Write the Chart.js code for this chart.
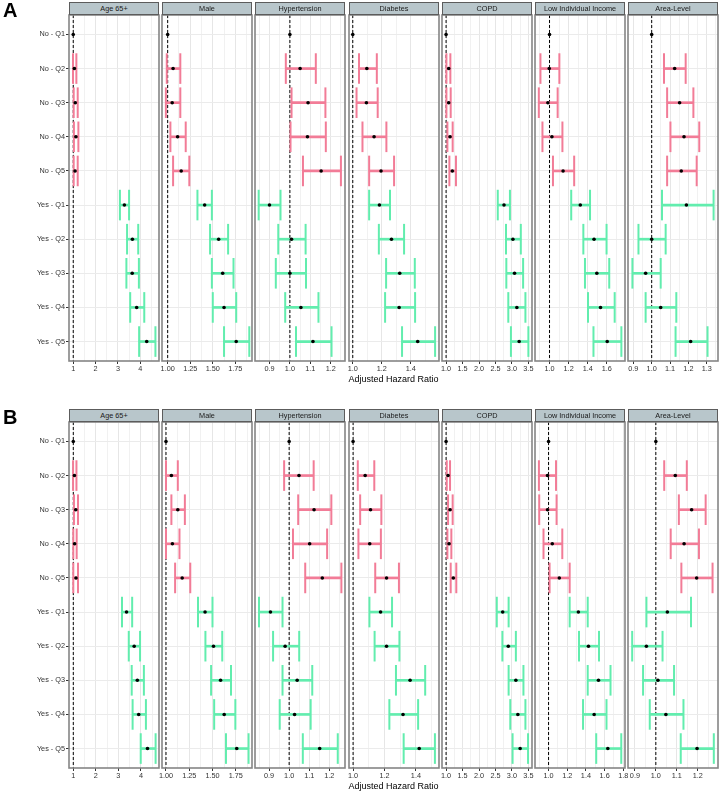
<!DOCTYPE html>
<html><head><meta charset="utf-8">
<script src="https://cdn.jsdelivr.net/npm/chart.js@4.4.1/dist/chart.umd.min.js"></script>
<style>
body{margin:0;background:#fff;width:720px;height:792px;position:relative;overflow:hidden;font-family:"Liberation Sans",Arial,Helvetica,sans-serif;}
canvas{position:absolute;}
.strip{position:absolute;box-sizing:border-box;height:13px;background:#B8C6CB;border:1px solid #5c5c5c;font-size:7.3px;line-height:11px;text-align:center;color:#1a1a1a;z-index:2;white-space:nowrap;}
.tag{position:absolute;font-weight:bold;font-size:20px;line-height:20px;color:#000;}
.xtitle{position:absolute;left:69px;width:649px;text-align:center;font-size:9px;line-height:10px;color:#000;}
</style></head><body>
<script>
// ---------- categories ----------
const rows = ['No - Q1','No - Q2','No - Q3','No - Q4','No - Q5','Yes - Q1','Yes - Q2','Yes - Q3','Yes - Q4','Yes - Q5'];
const facetNames = ['Age 65+','Male','Hypertension','Diabetes','COPD','Low Individual Income','Area-Level'];
const panelTags = ['A','B'];
const axisTitle = 'Adjusted Hazard Ratio';
const REF_VALUE = 1;

// ---------- Panel A values ----------
const A_age_est = [1, 1.05, 1.09, 1.12, 1.08, 3.29, 3.65, 3.64, 3.84, 4.29];
const A_age_lo  = [null, 0.99, 1.02, 1.03, 1.02, 3.09, 3.41, 3.38, 3.55, 3.95];
const A_age_hi  = [null, 1.14, 1.20, 1.23, 1.20, 3.50, 3.91, 3.94, 4.18, 4.68];

const A_male_est = [1, 1.06, 1.05, 1.11, 1.15, 1.41, 1.565, 1.61, 1.625, 1.76];
const A_male_lo  = [null, 0.99, 0.98, 1.03, 1.06, 1.33, 1.47, 1.49, 1.50, 1.625];
const A_male_hi  = [null, 1.14, 1.14, 1.20, 1.24, 1.49, 1.67, 1.73, 1.76, 1.905];

const A_hyp_est = [1, 1.05, 1.089, 1.086, 1.153, 0.90, 1.008, 1.00, 1.054, 1.113];
const A_hyp_lo  = [null, 0.98, 1.008, 1.003, 1.064, 0.847, 0.943, 0.931, 0.977, 1.03];
const A_hyp_hi  = [null, 1.127, 1.174, 1.176, 1.25, 0.954, 1.077, 1.079, 1.14, 1.204];

const A_dia_est = [1, 1.097, 1.094, 1.147, 1.195, 1.184, 1.267, 1.324, 1.32, 1.448];
const A_dia_lo  = [null, 1.043, 1.026, 1.067, 1.113, 1.113, 1.18, 1.23, 1.223, 1.34];
const A_dia_hi  = [null, 1.166, 1.172, 1.232, 1.285, 1.257, 1.354, 1.428, 1.43, 1.568];

const A_copd_est = [1, 1.08, 1.08, 1.12, 1.19, 2.76, 3.03, 3.08, 3.15, 3.22];
const A_copd_lo  = [null, 1.01, 1.01, 1.04, 1.10, 2.57, 2.82, 2.83, 2.89, 2.97];
const A_copd_hi  = [null, 1.13, 1.14, 1.20, 1.30, 2.94, 3.27, 3.34, 3.41, 3.50];

const A_inc_est = [1, 0.997, 0.983, 1.025, 1.142, 1.322, 1.466, 1.495, 1.534, 1.604];
const A_inc_lo  = [null, 0.905, 0.888, 0.926, 1.036, 1.227, 1.354, 1.371, 1.403, 1.46];
const A_inc_hi  = [null, 1.103, 1.085, 1.135, 1.258, 1.424, 1.597, 1.625, 1.682, 1.752];

const A_area_est = [1, 1.125, 1.152, 1.176, 1.161, 1.189, 1.0, 0.967, 1.049, 1.212];
const A_area_lo  = [null, 1.067, 1.084, 1.102, 1.084, 1.056, 0.928, 0.895, 0.967, 1.13];
const A_area_hi  = [null, 1.185, 1.227, 1.259, 1.245, 1.337, 1.076, 1.049, 1.134, 1.304];

// ---------- Panel B values ----------
const B_age_est = [1, 1.05, 1.11, 1.06, 1.12, 3.36, 3.70, 3.84, 3.90, 4.29];
const B_age_lo  = [null, 0.99, 1.03, 1.00, 1.00, 3.16, 3.46, 3.59, 3.63, 3.99];
const B_age_hi  = [null, 1.14, 1.21, 1.15, 1.21, 3.61, 3.96, 4.13, 4.22, 4.65];

const B_male_est = [1, 1.058, 1.127, 1.069, 1.174, 1.42, 1.511, 1.587, 1.626, 1.761];
const B_male_lo  = [null, 1.0, 1.058, 1.0, 1.098, 1.344, 1.424, 1.485, 1.518, 1.645];
const B_male_hi  = [null, 1.127, 1.203, 1.145, 1.261, 1.50, 1.605, 1.699, 1.746, 1.888];

const B_hyp_est = [1, 1.049, 1.124, 1.102, 1.165, 0.907, 0.98, 1.04, 1.027, 1.152];
const B_hyp_lo  = [null, 0.975, 1.045, 1.019, 1.08, 0.85, 0.92, 0.967, 0.953, 1.068];
const B_hyp_hi  = [null, 1.122, 1.21, 1.189, 1.26, 0.967, 1.05, 1.115, 1.107, 1.242];

const B_dia_est = [1, 1.077, 1.111, 1.106, 1.213, 1.175, 1.213, 1.363, 1.318, 1.421];
const B_dia_lo  = [null, 1.03, 1.045, 1.034, 1.141, 1.104, 1.137, 1.273, 1.231, 1.322];
const B_dia_hi  = [null, 1.135, 1.18, 1.177, 1.292, 1.248, 1.295, 1.459, 1.414, 1.521];

const B_copd_est = [1, 1.06, 1.12, 1.09, 1.22, 2.72, 2.89, 3.12, 3.18, 3.25];
const B_copd_lo  = [null, 1.02, 1.06, 1.04, 1.14, 2.54, 2.71, 2.90, 2.95, 3.02];
const B_copd_hi  = [null, 1.12, 1.20, 1.16, 1.31, 2.90, 3.12, 3.35, 3.41, 3.49];

const B_inc_est = [1, 0.989, 0.989, 1.04, 1.115, 1.319, 1.427, 1.534, 1.488, 1.634];
const B_inc_lo  = [null, 0.897, 0.90, 0.946, 1.011, 1.226, 1.326, 1.419, 1.369, 1.51];
const B_inc_hi  = [null, 1.08, 1.086, 1.147, 1.226, 1.419, 1.54, 1.663, 1.62, 1.778];

const B_area_est = [1, 1.093, 1.171, 1.135, 1.195, 1.055, 0.955, 1.01, 1.048, 1.197];
const B_area_lo  = [null, 1.04, 1.11, 1.071, 1.122, 0.955, 0.887, 0.939, 0.971, 1.119];
const B_area_hi  = [null, 1.148, 1.238, 1.206, 1.271, 1.168, 1.032, 1.087, 1.132, 1.277];

// ---------- tick labels ----------
const ticks_age  = ['1','2','3','4'];
const ticks_male = ['1.00','1.25','1.50','1.75'];
const ticks_hyp  = ['0.9','1.0','1.1','1.2'];
const ticks_dia  = ['1.0','1.2','1.4'];
const ticks_copd = ['1.0','1.5','2.0','2.5','3.0','3.5'];
const A_ticks_inc  = ['1.0','1.2','1.4','1.6'];
const B_ticks_inc  = ['1.0','1.2','1.4','1.6','1.8'];
const A_ticks_area = ['0.9','1.0','1.1','1.2','1.3'];
const B_ticks_area = ['0.9','1.0','1.1','1.2'];

// ---------- axis limits ----------
const A_xmin = [0.81, 0.937, 0.829, 0.974, 0.876, 0.848, 0.871];
const A_xmax = [4.84, 1.935, 1.270, 1.595, 3.610, 1.790, 1.361];
const B_xmin = [0.81, 0.957, 0.830, 0.974, 0.876, 0.855, 0.867];
const B_xmax = [4.80, 1.925, 1.278, 1.547, 3.610, 1.818, 1.297];

const panelA = [
  [A_age_est, A_age_lo, A_age_hi, ticks_age],
  [A_male_est, A_male_lo, A_male_hi, ticks_male],
  [A_hyp_est, A_hyp_lo, A_hyp_hi, ticks_hyp],
  [A_dia_est, A_dia_lo, A_dia_hi, ticks_dia],
  [A_copd_est, A_copd_lo, A_copd_hi, ticks_copd],
  [A_inc_est, A_inc_lo, A_inc_hi, A_ticks_inc],
  [A_area_est, A_area_lo, A_area_hi, A_ticks_area]
];
const panelB = [
  [B_age_est, B_age_lo, B_age_hi, ticks_age],
  [B_male_est, B_male_lo, B_male_hi, ticks_male],
  [B_hyp_est, B_hyp_lo, B_hyp_hi, ticks_hyp],
  [B_dia_est, B_dia_lo, B_dia_hi, ticks_dia],
  [B_copd_est, B_copd_lo, B_copd_hi, ticks_copd],
  [B_inc_est, B_inc_lo, B_inc_hi, B_ticks_inc],
  [B_area_est, B_area_lo, B_area_hi, B_ticks_area]
];

// ---------- styling / layout ----------
const PINK = '#F27C97';
const GREEN = '#62EDAE';
const PANEL_LEFTS = [69, 162, 255, 349, 442, 535, 628];
const PANEL_W = 90;
const PLOT_H = 346, STRIP_H = 13, AXIS_H = 19, PAD = 4, TOPPAD = 2;
const FONT = '"Liberation Sans", Arial, Helvetica, sans-serif';
const STRIP_TOPS = [2, 409];

const refLine = {
  id: 'refLine',
  beforeDatasetsDraw(chart) {
    const {ctx, chartArea: a, scales: {x}} = chart;
    const px = x.getPixelForValue(REF_VALUE);
    ctx.save();
    ctx.beginPath(); ctx.rect(a.left, a.top, a.width, a.height); ctx.clip();
    ctx.setLineDash([3, 2]);
    ctx.strokeStyle = '#000'; ctx.lineWidth = 1;
    ctx.beginPath(); ctx.moveTo(px, a.top); ctx.lineTo(px, a.bottom); ctx.stroke();
    ctx.restore();
  }
};
const frame = {
  id: 'frame',
  afterDraw(chart) {
    const {ctx, chartArea: a} = chart;
    ctx.save();
    ctx.strokeStyle = '#858585'; ctx.lineWidth = 1.6;
    ctx.strokeRect(a.left, a.top, a.width, a.height);
    ctx.restore();
  }
};

function rowColor(ctx) {
  if (!ctx.raw) return PINK;
  return rows[ctx.raw.y].startsWith('No') ? PINK : GREEN;
}

function buildFacet(pIdx, i, f, xmin, xmax) {
  const [est, lo, hi, tickLabels] = f;
  const first = i === 0;
  const majors = tickLabels.map(parseFloat);
  const step = majors[1] - majors[0];
  const all = majors.slice();
  for (let v = majors[0] - step / 2; v <= xmax + 1e-9; v += step) {
    if (v >= xmin && !majors.some(m => Math.abs(m - v) < 1e-9)) all.push(+v.toFixed(6));
  }
  all.sort((a, b) => a - b);
  const isMajor = v => majors.some(m => Math.abs(m - v) < 1e-9);

  const cv = document.createElement('canvas');
  const left = first ? 0 : PANEL_LEFTS[i] - PAD;
  const w = first ? PANEL_LEFTS[0] + PANEL_W + PAD : PANEL_W + 2 * PAD;
  const h = TOPPAD + PLOT_H + AXIS_H;
  cv.width = w; cv.height = h;
  cv.style.left = left + 'px';
  cv.style.top = (STRIP_TOPS[pIdx] + STRIP_H - TOPPAD) + 'px';
  cv.style.width = w + 'px'; cv.style.height = h + 'px';
  document.body.appendChild(cv);

  const idx = rows.map((_, k) => k).filter(k => lo[k] != null);
  const capDs = vals => ({
    type: 'scatter',
    data: idx.map(k => ({x: vals[k], y: k})),
    pointStyle: 'line', pointRotation: 90, pointRadius: 15.3, pointHoverRadius: 15.3,
    pointBorderWidth: 2, pointBorderColor: rowColor, pointBackgroundColor: rowColor,
    showLine: false, order: 2, clip: false
  });

  new Chart(cv, {
    type: 'bar',
    data: {
      datasets: [
        {type: 'bar', data: idx.map(k => ({x: [lo[k], hi[k]], y: k})), backgroundColor: rowColor,
         barThickness: 2, borderWidth: 0, order: 3},
        capDs(lo),
        capDs(hi),
        {type: 'scatter', data: est.map((v, k) => ({x: v, y: k})), pointRadius: 1.8, pointHoverRadius: 1.8,
         pointBackgroundColor: '#000', pointBorderWidth: 0, showLine: false, order: 1, clip: false}
      ]
    },
    options: {
      indexAxis: 'y', animation: false, responsive: false, maintainAspectRatio: false, events: [],
      layout: {autoPadding: false, padding: {left: first ? 0 : PAD, right: PAD, top: TOPPAD, bottom: 0}},
      plugins: {legend: {display: false}, tooltip: {enabled: false}},
      scales: {
        x: {
          type: 'linear', min: xmin, max: xmax, beginAtZero: false,
          afterBuildTicks: s => { s.ticks = all.map(v => ({value: v})); },
          afterFit: s => { s.height = AXIS_H; s.paddingLeft = 0; s.paddingRight = 0; },
          ticks: {
            autoSkip: false, maxRotation: 0, minRotation: 0, padding: 1, color: '#333',
            font: {family: FONT, size: 7.3},
            callback: v => { const k = majors.findIndex(m => Math.abs(m - v) < 1e-9); return k >= 0 ? tickLabels[k] : ''; }
          },
          grid: {
            color: c => (c.tick && isMajor(c.tick.value)) ? '#e6e6e6' : '#f1f1f1',
            lineWidth: 1, drawTicks: true, tickLength: 3, tickWidth: 1,
            tickColor: c => (c.tick && isMajor(c.tick.value)) ? '#333' : 'rgba(0,0,0,0)'
          },
          border: {display: false}
        },
        y: {
          type: 'linear', min: -0.57, max: rows.length - 1 + 0.57, reverse: true, offset: false,
          afterBuildTicks: s => { s.ticks = rows.map((_, k) => ({value: k})); },
          afterFit: s => { s.width = first ? PANEL_LEFTS[0] : 0; s.paddingTop = 0; s.paddingBottom = 0; },
          ticks: {
            display: first, autoSkip: false, padding: 1, color: '#333',
            font: {family: FONT, size: 7.3},
            callback: v => rows[v]
          },
          grid: {color: '#ebebeb', lineWidth: 1, offset: false, drawTicks: first, tickLength: 3, tickColor: '#333'},
          border: {display: false}
        }
      }
    },
    plugins: [refLine, frame]
  });
}

function addDiv(cls, text, css) {
  const d = document.createElement('div');
  d.className = cls; d.textContent = text;
  Object.assign(d.style, css);
  document.body.appendChild(d);
}

[panelA, panelB].forEach((panel, p) => {
  const xmin = p === 0 ? A_xmin : B_xmin;
  const xmax = p === 0 ? A_xmax : B_xmax;
  panel.forEach((f, i) => buildFacet(p, i, f, xmin[i], xmax[i]));
  facetNames.forEach((name, i) => addDiv('strip', name, {
    left: PANEL_LEFTS[i] + 'px', top: STRIP_TOPS[p] + 'px', width: PANEL_W + 'px'
  }));
  addDiv('tag', panelTags[p], {left: '3px', top: (STRIP_TOPS[p] - 2) + 'px'});
  addDiv('xtitle', axisTitle, {top: (STRIP_TOPS[p] + STRIP_H + PLOT_H + 13) + 'px'});
});
</script>
</body></html>
